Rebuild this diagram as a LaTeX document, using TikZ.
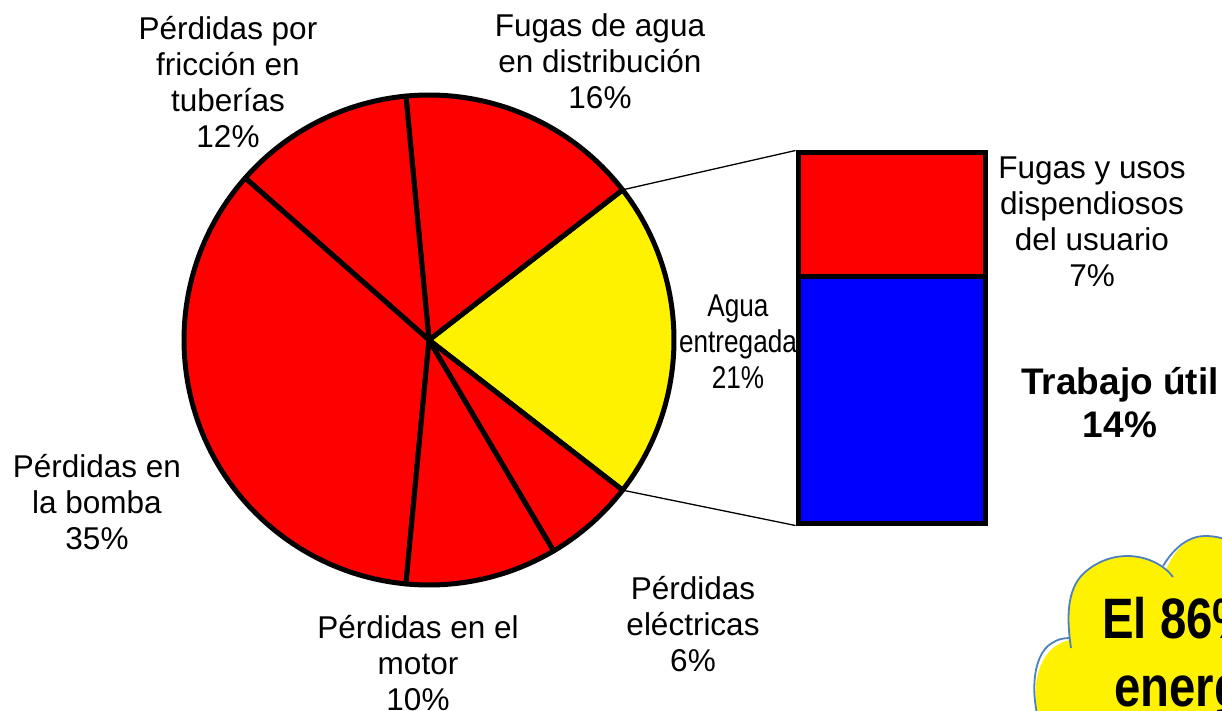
\documentclass[tikz,border=0pt]{standalone}
\usepackage{fontspec}
\setmainfont{Liberation Sans}
\usepackage{graphicx}
\begin{document}
\begin{tikzpicture}[x=1pt,y=-1pt,
  lbl/.style={align=center,inner sep=0pt,font=\fontsize{31.5}{36}\selectfont},
  blbl/.style={align=center,inner sep=0pt,font=\fontsize{37}{43}\selectfont\bfseries},
  slice/.style={draw=black,line width=5pt,line join=round},
  barbox/.style={draw=black,line width=5pt,minimum width=187pt,inner sep=0pt},
  conn/.style={draw=black,line width=1.3pt},
  cloudline/.style={draw=cloudblue,line width=1.8pt}]
\definecolor{cloudblue}{RGB}{79,129,189}
\useasboundingbox (0,0) rectangle (1222,711);
\clip (0,0) rectangle (1222,711);
\fill[white] (0,0) rectangle (1222,711);
\coordinate (c) at (429,340);
\def\R{245}
% slices (visual angle a -> polar angle -a)
\filldraw[slice,fill=yellow] (c) -- ++(37.8:\R) arc[start angle=37.8,end angle=-37.8,radius=\R] -- cycle;
\filldraw[slice,fill=red] (c) -- ++(-37.8:\R) arc[start angle=-37.8,end angle=-95.4,radius=\R] -- cycle;
\filldraw[slice,fill=red] (c) -- ++(-95.4:\R) arc[start angle=-95.4,end angle=-138.6,radius=\R] -- cycle;
\filldraw[slice,fill=red] (c) -- ++(-138.6:\R) arc[start angle=-138.6,end angle=-264.6,radius=\R] -- cycle;
\filldraw[slice,fill=red] (c) -- ++(-264.6:\R) arc[start angle=-264.6,end angle=-300.6,radius=\R] -- cycle;
\filldraw[slice,fill=red] (c) -- ++(-300.6:\R) arc[start angle=-300.6,end angle=-322.2,radius=\R] -- cycle;
% bar
\node[barbox,fill=red,minimum height=123pt] (barred) at (891.5,214.5) {};
\node[barbox,fill=blue,minimum height=247pt] (barblue) at (891.5,399.5) {};
\path (c) ++(-37.8:\R) coordinate (p1);
\path (c) ++(37.8:\R) coordinate (p2);
\draw[conn] (p1) -- (barred.north west);
\draw[conn] (p2) -- (barblue.south west);
% labels
\node[lbl] (friccion) at (228,82) {Pérdidas por\\fricción en\\tuberías\\12\%};
\node[lbl] (fugasdist) at (600,61) {Fugas de agua\\en distribución\\16\%};
\node[lbl] (fugasusu) at (1092,222) {Fugas y usos\\dispendiosos\\del usuario\\7\%};
\node[lbl] (agua) at (738,342) {\scalebox{0.83}[1]{Agua}\\\scalebox{0.83}[1]{entregada}\\\scalebox{0.83}[1]{21\%}};
\node[blbl] (trabajo) at (1120,403) {Trabajo útil\\14\%};
\node[lbl] (bomba) at (97,502) {Pérdidas en\\la bomba\\35\%};
\node[lbl] (motor) at (418,663) {Pérdidas en el\\motor\\10\%};
\node[lbl] (electricas) at (693,624) {Pérdidas\\eléctricas\\6\%};
% cloud
\fill[yellow] (1042,730) .. controls (1030,700) and (1032,648) .. (1070,640)
  .. controls (1066,610) and (1068,590) .. (1082,575)
  .. controls (1097,560) and (1115,556) .. (1127,556)
  .. controls (1145,556) and (1158,562) .. (1166,570)
  .. controls (1175,548) and (1190,536) .. (1205,536)
  .. controls (1215,536) and (1225,538) .. (1240,545) -- (1240,730) -- cycle;
\draw[cloudline] (1042,730) .. controls (1030,700) and (1031,655) .. (1052,643)
  .. controls (1058,639) and (1064,638) .. (1070,638);
\draw[cloudline] (1071,648) .. controls (1066,615) and (1068,590) .. (1082,575)
  .. controls (1097,560) and (1115,556) .. (1127,556)
  .. controls (1148,556) and (1165,566) .. (1173,577);
\draw[cloudline] (1163,566) .. controls (1175,546) and (1190,536) .. (1205,536)
  .. controls (1215,536) and (1225,538) .. (1240,545);
\node[anchor=base west,inner sep=0pt,font=\fontsize{57}{66}\selectfont\bfseries] (cloudtxt1) at (1102,638) {\scalebox{0.83}[1]{El 86\% de la}};
\node[anchor=base west,inner sep=0pt,font=\fontsize{57}{66}\selectfont\bfseries] (cloudtxt2) at (1114,706) {\scalebox{0.83}[1]{energía}};
\end{tikzpicture}
\end{document}
